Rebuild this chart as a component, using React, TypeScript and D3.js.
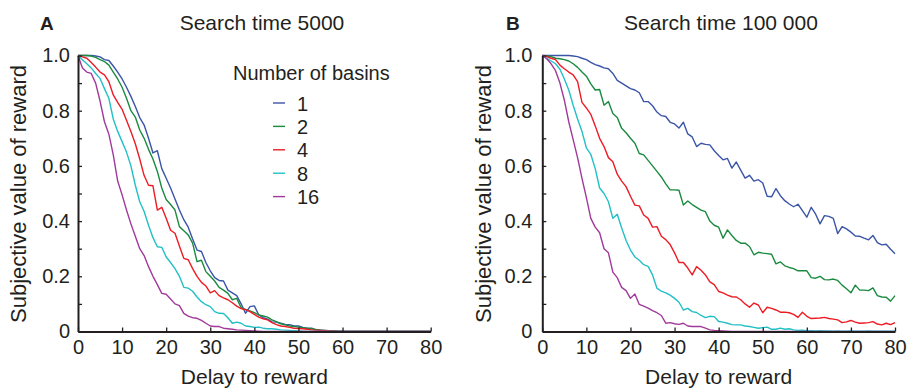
import React, { useEffect, useRef } from 'react';
import * as d3 from 'd3';

// subjective value vs delay (0..80), one value per integer delay
const basins = ['1', '2', '4', '8', '16'];
const colors = ['#3a55a8', '#1a8a3f', '#ed1c24', '#22c0c6', '#a1399b'];

const aBlue = [
  1.0, 1.0, 1.0, 1.0, 0.998, 0.995, 0.985, 0.982, 0.962, 0.94,
  0.915, 0.885, 0.852, 0.815, 0.775, 0.748, 0.7, 0.647, 0.655, 0.59,
  0.555, 0.52, 0.48, 0.44, 0.405, 0.378, 0.335, 0.295, 0.29, 0.25,
  0.22, 0.195, 0.185, 0.183, 0.15, 0.14, 0.13, 0.1, 0.066, 0.09,
  0.093, 0.06, 0.05, 0.045, 0.035, 0.034, 0.03, 0.026, 0.025, 0.02,
  0.02, 0.015, 0.011, 0.012, 0.006, 0.005, 0.004, 0.002, 0.002, 0.001,
  0.001, 0, 0, 0, 0, 0, 0, 0, 0, 0,
  0, 0, 0, 0, 0, 0, 0, 0, 0, 0, 0,
];
const aGreen = [
  1.0, 1.0, 1.0, 0.998, 0.993, 0.985, 0.978, 0.965, 0.94, 0.915,
  0.885, 0.845, 0.8, 0.777, 0.73, 0.7, 0.66, 0.625, 0.58, 0.52,
  0.478, 0.46, 0.44, 0.38, 0.365, 0.35, 0.32, 0.253, 0.258, 0.217,
  0.2, 0.183, 0.16, 0.15, 0.138, 0.115, 0.12, 0.086, 0.08, 0.075,
  0.068, 0.06, 0.056, 0.052, 0.042, 0.036, 0.028, 0.024, 0.02, 0.018,
  0.016, 0.014, 0.012, 0.01, 0.007, 0.005, 0.004, 0.003, 0.002, 0.001,
  0, 0, 0, 0, 0, 0, 0, 0, 0, 0,
  0, 0, 0, 0, 0, 0, 0, 0, 0, 0, 0,
];
const aRed = [
  1.0, 0.995, 0.99, 0.975, 0.958, 0.94, 0.93, 0.905, 0.857, 0.83,
  0.805, 0.765, 0.725, 0.68, 0.625, 0.565, 0.53, 0.528, 0.44, 0.45,
  0.41, 0.367, 0.356, 0.31, 0.265, 0.26, 0.228, 0.2, 0.178, 0.165,
  0.14, 0.148, 0.13, 0.122, 0.115, 0.104, 0.092, 0.083, 0.079, 0.072,
  0.062, 0.052, 0.046, 0.042, 0.032, 0.025, 0.02, 0.018, 0.015, 0.012,
  0.011, 0.01, 0.008, 0.006, 0.005, 0.004, 0.003, 0.002, 0.001, 0,
  0, 0, 0, 0, 0, 0, 0, 0, 0, 0,
  0, 0, 0, 0, 0, 0, 0, 0, 0, 0, 0,
];
const aCyan = [
  1.0, 0.985, 0.97, 0.955, 0.935, 0.917, 0.88, 0.845, 0.77, 0.725,
  0.688, 0.65, 0.6, 0.53, 0.47, 0.435, 0.385, 0.34, 0.307, 0.305,
  0.27, 0.25, 0.228, 0.2, 0.16, 0.157, 0.146, 0.125, 0.108, 0.097,
  0.09, 0.072, 0.066, 0.065, 0.05, 0.03, 0.034, 0.03, 0.02, 0.018,
  0.015, 0.016, 0.012, 0.01, 0.01, 0.008, 0.006, 0.005, 0.004, 0.003,
  0.002, 0.001, 0, 0, 0, 0, 0, 0, 0, 0,
  0, 0, 0, 0, 0, 0, 0, 0, 0, 0,
  0, 0, 0, 0, 0, 0, 0, 0, 0, 0, 0,
];
const aMagenta = [
  1.0, 0.955, 0.94, 0.935, 0.9, 0.835, 0.76, 0.715, 0.64, 0.545,
  0.495, 0.44, 0.39, 0.345, 0.3, 0.275, 0.235, 0.2, 0.17, 0.138,
  0.135, 0.118, 0.1, 0.094, 0.066, 0.056, 0.05, 0.048, 0.04, 0.03,
  0.02, 0.018, 0.018, 0.012, 0.01, 0.008, 0.006, 0.005, 0.004, 0.003,
  0.002, 0.001, 0, 0, 0, 0, 0, 0, 0, 0,
  0, 0, 0, 0, 0, 0, 0, 0, 0, 0,
  0, 0, 0, 0, 0, 0, 0, 0, 0, 0,
  0, 0, 0, 0, 0, 0, 0, 0, 0, 0, 0,
];

const bBlue = [
  1.0, 1.0, 1.0, 1.0, 1.0, 1.0, 1.0, 0.998, 0.996, 0.99,
  0.985, 0.975, 0.967, 0.962, 0.955, 0.952, 0.935, 0.91, 0.9, 0.89,
  0.88, 0.875, 0.865, 0.833, 0.833, 0.818, 0.795, 0.782, 0.779, 0.758,
  0.752, 0.737, 0.758, 0.716, 0.705, 0.67, 0.682, 0.678, 0.676, 0.655,
  0.638, 0.622, 0.627, 0.592, 0.614, 0.585, 0.556, 0.566, 0.545, 0.55,
  0.538, 0.49, 0.488, 0.518, 0.492, 0.474, 0.462, 0.452, 0.461, 0.438,
  0.414, 0.45, 0.425, 0.39, 0.42, 0.417, 0.41, 0.355, 0.38, 0.372,
  0.36, 0.346, 0.345, 0.338, 0.332, 0.348, 0.322, 0.314, 0.316, 0.298, 0.282,
];
const bGreen = [
  1.0, 0.998, 0.996, 0.99, 0.988, 0.985, 0.98, 0.97, 0.957, 0.94,
  0.925, 0.897, 0.875, 0.877, 0.82, 0.833, 0.79, 0.775, 0.736, 0.72,
  0.7, 0.682, 0.645, 0.64, 0.62, 0.6, 0.58, 0.56, 0.535, 0.513,
  0.513, 0.512, 0.458, 0.473, 0.46, 0.45, 0.44, 0.434, 0.4, 0.385,
  0.378, 0.338, 0.368, 0.348, 0.33, 0.32, 0.32, 0.308, 0.278, 0.287,
  0.284, 0.282, 0.28, 0.245, 0.252, 0.238, 0.232, 0.228, 0.22, 0.22,
  0.22, 0.195, 0.193, 0.2, 0.188, 0.187, 0.19, 0.185, 0.168, 0.155,
  0.14, 0.168, 0.15, 0.15, 0.148, 0.158, 0.13, 0.125, 0.124, 0.11, 0.13,
];
const bRed = [
  1.0, 0.996, 0.99, 0.985, 0.965, 0.952, 0.94, 0.93, 0.905, 0.83,
  0.81, 0.787, 0.745, 0.7, 0.67, 0.63, 0.615, 0.57, 0.545, 0.525,
  0.49, 0.458, 0.455, 0.422, 0.41, 0.378, 0.38, 0.345, 0.333, 0.315,
  0.285, 0.25, 0.25, 0.23, 0.205, 0.235, 0.222, 0.205, 0.18, 0.17,
  0.145, 0.14, 0.132, 0.126, 0.125, 0.115, 0.1, 0.088, 0.103, 0.096,
  0.068, 0.088, 0.084, 0.078, 0.07, 0.07, 0.068, 0.062, 0.051, 0.07,
  0.055, 0.047, 0.048, 0.049, 0.051, 0.047, 0.045, 0.042, 0.032, 0.035,
  0.04, 0.034, 0.03, 0.031, 0.032, 0.036, 0.027, 0.024, 0.03, 0.025, 0.032,
];
const bCyan = [
  1.0, 0.99, 0.98, 0.97, 0.95, 0.915, 0.875, 0.82, 0.77, 0.725,
  0.665, 0.642, 0.59, 0.52, 0.5, 0.47, 0.41, 0.425, 0.375, 0.33,
  0.295, 0.27, 0.258, 0.242, 0.236, 0.205, 0.157, 0.146, 0.14, 0.132,
  0.12, 0.106, 0.078, 0.084, 0.072, 0.069, 0.058, 0.05, 0.055, 0.054,
  0.036, 0.034, 0.03, 0.025, 0.024, 0.024, 0.02, 0.018, 0.015, 0.012,
  0.014, 0.016, 0.008, 0.008, 0.012, 0.008, 0.01, 0.006, 0.004, 0.005,
  0.003, 0.003, 0.002, 0.003, 0.002, 0.002, 0.001, 0.002, 0.001, 0.001,
  0.002, 0.001, 0.001, 0.001, 0.002, 0.001, 0.001, 0.001, 0.001, 0.001, 0.001,
];
const bMagenta = [
  1.0, 0.988, 0.97, 0.945, 0.9, 0.838, 0.76, 0.695, 0.63, 0.555,
  0.485, 0.41, 0.378, 0.358, 0.3, 0.285, 0.215, 0.195, 0.16, 0.148,
  0.12, 0.136, 0.098, 0.092, 0.085, 0.076, 0.068, 0.058, 0.03, 0.032,
  0.028, 0.026, 0.03, 0.02, 0.018, 0.018, 0.018, 0.012, 0.006, 0.004,
  0.003, 0.002, 0.001, 0, 0, 0, 0, 0, 0, 0,
  0, 0, 0, 0, 0, 0, 0, 0, 0, 0,
  0, 0, 0, 0, 0, 0, 0, 0, 0, 0,
  0, 0, 0, 0, 0, 0, 0, 0, 0, 0, 0,
];

const xTicks = [0, 10, 20, 30, 40, 50, 60, 70, 80];
const yTicks = [0, 0.1, 0.2, 0.3, 0.4, 0.5, 0.6, 0.7, 0.8, 0.9, 1.0];

const panels = [
  { letter: 'A', title: 'Search time 5000', series: [aBlue, aGreen, aRed, aCyan, aMagenta], x0: 78, x1: 430.7, letterX: 40, titleX: 262, ylabX: 26, tickPad: 8, legend: true },
  { letter: 'B', title: 'Search time 100 000', series: [bBlue, bGreen, bRed, bCyan, bMagenta], x0: 542.3, x1: 895, letterX: 506, titleX: 721, ylabX: 491, tickPad: 10, legend: false },
];

const FONT = '"Liberation Sans", Arial, Helvetica, sans-serif';
const INK = '#231f20';

export default function App() {
  const svgRef = useRef<SVGSVGElement>(null);

  useEffect(() => {
    if (!svgRef.current) return;
    const svg = d3.select(svgRef.current);
    svg.selectAll('*').remove();

    const yScale = d3.scaleLinear().domain([0, 1]).range([331.5, 55.5]);

    panels.forEach(p => {
      const xScale = d3.scaleLinear().domain([0, 80]).range([p.x0, p.x1]);
      const g = svg.append('g');

      // curves
      const line = d3.line<number>()
        .x((_, i) => xScale(i))
        .y(d => yScale(d));
      p.series.forEach((s, k) => {
        g.append('path')
          .datum(s)
          .attr('d', line)
          .attr('fill', 'none')
          .attr('stroke', colors[k])
          .attr('stroke-width', 1.4)
          .attr('stroke-linejoin', 'round');
      });

      // axes, ticks pointing inward
      g.append('g')
        .attr('transform', `translate(0,${yScale(0)})`)
        .call(d3.axisBottom(xScale).tickValues(xTicks).tickSizeInner(-4).tickSizeOuter(0).tickPadding(8).tickFormat(d3.format('d')))
        .call((a: any) => a.select('.domain').attr('stroke', INK).attr('stroke-width', 2))
        .call((a: any) => a.selectAll('line').attr('stroke', INK).attr('stroke-width', 1.3))
        .call((a: any) => a.selectAll('text').attr('fill', INK).attr('font-size', '20px').attr('font-family', FONT).attr('dy', '0.71em'));

      g.append('g')
        .attr('transform', `translate(${p.x0},0)`)
        .call(d3.axisLeft(yScale).tickValues(yTicks).tickSizeInner(-4).tickSizeOuter(0).tickPadding(p.tickPad)
          .tickFormat((d: any) => {
            const k = Math.round(d * 10);
            if (k % 2 === 1) return '';
            return k === 0 ? '0' : d3.format('.1f')(d);
          }))
        .call((a: any) => a.select('.domain').attr('stroke', INK).attr('stroke-width', 2))
        .call((a: any) => a.selectAll('line').attr('stroke', INK).attr('stroke-width', 1.3))
        .call((a: any) => a.selectAll('text').attr('fill', INK).attr('font-size', '20px').attr('font-family', FONT));

      // labels
      g.append('text')
        .attr('x', p.letterX)
        .attr('y', 30)
        .attr('font-family', FONT)
        .style('font-size', '19px')
        .style('font-weight', 'bold')
        .style('fill', INK)
        .text(p.letter);

      g.append('text')
        .attr('x', p.titleX)
        .attr('y', 30)
        .attr('text-anchor', 'middle')
        .attr('font-family', FONT)
        .style('font-size', '21px')
        .style('fill', INK)
        .text(p.title);

      g.append('text')
        .attr('x', (p.x0 + p.x1) / 2)
        .attr('y', 384)
        .attr('text-anchor', 'middle')
        .attr('font-family', FONT)
        .style('font-size', '21px')
        .style('fill', INK)
        .text('Delay to reward');

      g.append('text')
        .attr('transform', `translate(${p.ylabX},194) rotate(-90)`)
        .attr('text-anchor', 'middle')
        .attr('font-family', FONT)
        .style('font-size', '22px')
        .style('fill', INK)
        .text('Subjective value of reward');

      if (p.legend) {
        const lg = svg.append('g');
        lg.append('text')
          .attr('x', 233)
          .attr('y', 80)
          .attr('font-family', FONT)
          .style('font-size', '20px')
          .style('fill', INK)
          .text('Number of basins');
        basins.forEach((b, i) => {
          const cy = 103 + i * 23.4;
          lg.append('line')
            .attr('x1', 273).attr('x2', 285)
            .attr('y1', cy).attr('y2', cy)
            .attr('stroke', colors[i])
            .attr('stroke-width', 1.4);
          lg.append('text')
            .attr('x', 297)
            .attr('y', cy + 7.5)
            .attr('font-family', FONT)
            .style('font-size', '20px')
            .style('fill', INK)
            .text(b);
        });
      }
    });
  }, []);

  return (
    <svg
      ref={svgRef}
      width={909}
      height={388}
      style={{ position: 'absolute', left: 0, top: 0, background: '#fff', display: 'block' }}
    />
  );
}
